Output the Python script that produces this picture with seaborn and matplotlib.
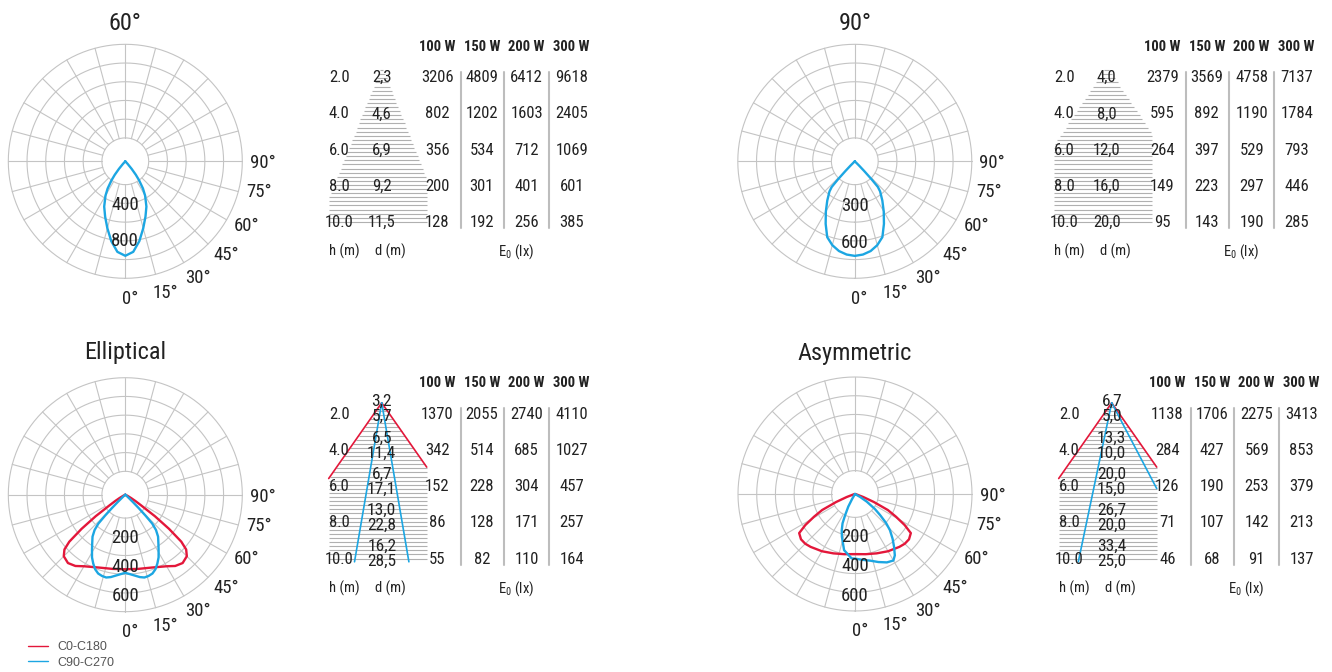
import numpy as np
import matplotlib
matplotlib.use("Agg")
import matplotlib.pyplot as plt
import seaborn as sns
from matplotlib import font_manager as fm

# ---------------- data ----------------
H_M = [2.0, 4.0, 6.0, 8.0, 10.0]
WATTS = ["100 W", "150 W", "200 W", "300 W"]

# 60° spot
ANG_60 = [0, 5, 10, 15, 20, 25, 30, 33, 36, 38, 40, 42, 44]
I_60 = [1050, 1010, 900, 770, 655, 555, 440, 360, 260, 190, 110, 40, 0]
D_60 = [2.3, 4.6, 6.9, 9.2, 11.5]
E_60 = [[3206, 802, 356, 200, 128], [4809, 1202, 534, 301, 192],
        [6412, 1603, 712, 401, 256], [9618, 2405, 1069, 601, 385]]

# 90° flood
ANG_90 = [0, 5, 10, 15, 20, 25, 30, 35, 40, 42, 43, 44, 45, 47]
I_90 = [768, 760, 740, 705, 655, 560, 470, 390, 320, 280, 200, 110, 50, 0]
D_90 = [4.0, 8.0, 12.0, 16.0, 20.0]
E_90 = [[2379, 595, 264, 149, 95], [3569, 892, 397, 223, 143],
        [4758, 1190, 529, 297, 190], [7137, 1784, 793, 446, 285]]

# Elliptical
ANG_EL_C0 = [0, 10, 20, 30, 35, 40, 45, 48, 50, 52, 54, 56, 58, 60, 63, 66]
I_EL_C0 = [510, 515, 530, 565, 595, 610, 595, 560, 500, 380, 250, 130, 80, 45, 15, 0]
ANG_EL_C90 = [0, 5, 10, 13, 16, 19, 22, 25, 28, 31, 34, 38, 41, 43, 44, 45, 46, 48, 50]
I_EL_C90 = [534, 550, 572, 581, 578, 570, 550, 519, 485, 442, 405, 364, 320, 270, 200, 130, 70, 20, 0]
D_EL_TOP = [3.2, 6.5, 6.7, 13.0, 16.2]
D_EL_BOT = [5.7, 11.4, 17.1, 22.8, 28.5]
E_EL = [[1370, 342, 152, 86, 55], [2055, 514, 228, 128, 82],
        [2740, 685, 304, 171, 110], [4110, 1027, 457, 257, 164]]

# Asymmetric
ANG_AS_C0 = [0, 10, 20, 30, 40, 45, 50, 55, 58, 61, 64, 67, 70, 75, 80]
I_AS_C0 = [411, 418, 432, 452, 472, 481, 482, 466, 400, 320, 250, 140, 60, 10, 0]
ANG_AS_C90 = [-35, -30, -28, -25, -23, -20, -17, -11, -3, 0, 6, 13, 19, 25, 30, 33,
              36.5, 40, 44, 47, 50, 53, 57, 60, 63]
I_AS_C90 = [0, 40, 98, 160, 218, 265, 306, 391, 441, 442, 452, 468, 492, 516, 525, 500,
            449, 400, 344, 290, 224, 170, 96, 40, 0]
D_AS_TOP = [6.7, 13.3, 20.0, 26.7, 33.4]
D_AS_BOT = [5.0, 10.0, 15.0, 20.0, 25.0]
E_AS = [[1138, 284, 126, 71, 46], [1706, 427, 190, 107, 68],
        [2275, 569, 253, 142, 91], [3413, 853, 379, 213, 137]]

ANGLE_TICKS = [0, 15, 30, 45, 60, 75, 90]

# ---------------- style ----------------
sns.set_theme(style="white")
names = {f.name for f in fm.fontManager.ttflist}
NARROW = None
for cand in ["Liberation Sans Narrow", "Roboto Condensed", "Arial Narrow"]:
    if cand in names:
        NARROW = cand
        break
if NARROW is None:
    NARROW = "Liberation Sans" if "Liberation Sans" in names else "DejaVu Sans"
REG = "Liberation Sans" if "Liberation Sans" in names else "DejaVu Sans"
plt.rcParams["font.family"] = [NARROW, "DejaVu Sans"]

RED = "#e3173a"
BLUE = "#1ca6e2"
GRID = "#c4c4c4"
HATCH = "#b0b0b0"
SEP = "#bdbdbd"
TXT = "#222222"

W, Hh = 1332, 672
fig = plt.figure(figsize=(W / 100, Hh / 100), dpi=100)
fig.patch.set_facecolor("white")

ov = fig.add_axes([0, 0, 1, 1])
ov.set_xlim(0, W)
ov.set_ylim(Hh, 0)
ov.axis("off")

RING_FRACS = np.linspace(0.2, 1.0, 6)
RPX = 117.0


def polar_panel(title, cx, cy, rmax, labels, label_off, title_r, curves):
    ax = fig.add_axes([(cx - RPX) / W, (Hh - cy - RPX) / Hh, 2 * RPX / W, 2 * RPX / Hh],
                      projection="polar")
    ax.set_facecolor("none")
    ax.set_theta_zero_location("S")
    ax.set_theta_direction(1)
    ax.set_ylim(0, rmax)
    ax.grid(False)
    ax.set_xticks([])
    ax.set_yticks([])
    ax.spines["polar"].set_visible(False)
    tt = np.linspace(0, 2 * np.pi, 361)
    for f in RING_FRACS:
        ax.plot(tt, np.full_like(tt, f * rmax), color=GRID, lw=0.8, zorder=1, clip_on=False)
    for a in range(0, 360, 15):
        t = np.deg2rad(a)
        ax.plot([t, t], [RING_FRACS[0] * rmax, rmax], color=GRID, lw=0.8, zorder=1, clip_on=False)
    for a in ANGLE_TICKS:
        ax.text(np.deg2rad(a + (-0.8 if a == 90 else 2.0)), rmax * 1.175, f"{a}°",
                ha="center", va="center", fontsize=13.5, color=TXT, clip_on=False)
    ax.text(np.pi, rmax * title_r, title, ha="center", va="center", fontsize=17.5,
            color=TXT, clip_on=False)
    for ang, inten, col, mirror, lab in curves:
        ang = np.asarray(ang, float)
        inten = np.asarray(inten, float)
        if mirror:
            th = np.concatenate([-ang[::-1], ang[1:]])
            rr = np.concatenate([inten[::-1], inten[1:]])
        else:
            th, rr = ang, inten
        sns.lineplot(x=np.deg2rad(th), y=rr, ax=ax, color=col, lw=1.7, sort=False,
                     estimator=None, label=lab, zorder=3)
    if ax.get_legend() is not None:
        ax.get_legend().remove()
    for v in labels:
        ax.annotate(str(v), xy=(0, v), xytext=(0, -label_off), textcoords="offset points",
                    ha="center", va="center", fontsize=13.5, color=TXT, zorder=4)
    ax.set_xlabel("")
    ax.set_ylabel("")
    return ax


def fmt_d(v):
    return f"{v:.1f}".replace(".", ",")


def table(bx, hy, d_top, d_bot, evals, slope, red_slope=None, blue_slopes=None):
    rows = [hy + 31.0 + 36.2 * i for i in range(5)]
    apex_x, apex_y = bx - 55.6, rows[0] - 11.5
    box_l, box_r = apex_x - 53.0, apex_x + 45.0
    bottom = rows[-1] + 1.0
    ys = np.arange(apex_y + 4.0, bottom + 0.1, 4.1)
    hw = slope * (ys - apex_y)
    ov.hlines(ys, np.maximum(apex_x - hw, box_l), np.minimum(apex_x + hw, box_r),
              color=HATCH, lw=0.8, zorder=1)
    if red_slope is not None:
        for side, lim in ((-1, box_l), (1, box_r)):
            dy = abs(lim - apex_x) / red_slope
            ov.plot([apex_x, lim], [apex_y, apex_y + dy], color=RED, lw=1.2, zorder=2)
    if blue_slopes is not None:
        for side, s in zip((-1, 1), blue_slopes):
            lim = box_l if side < 0 else box_r
            dy = rows[-1] + 2.7 - apex_y
            if s * dy > abs(lim - apex_x):
                dy = abs(lim - apex_x) / s
            ov.plot([apex_x, apex_x + side * s * dy], [apex_y, apex_y + dy],
                    color=BLUE, lw=1.2, zorder=2)
    cols = [bx, bx + 44.5, bx + 89.4, bx + 134.4]
    for x, wlab in zip(cols, WATTS):
        ov.text(x, hy, wlab, ha="center", va="center", fontsize=10.5, fontweight="bold",
                color=TXT, zorder=3)
    for sx in (bx + 23.5, bx + 67.0, bx + 112.0):
        ov.plot([sx, sx], [rows[0] - 6, rows[-1] + 5.5], color=SEP, lw=1.5, zorder=2)
    for i, y in enumerate(rows):
        ov.text(bx - 98, y, f"{H_M[i]:.1f}", ha="center", va="center", fontsize=12,
                color=TXT, zorder=3)
        if d_bot is None:
            ov.text(apex_x, y, fmt_d(d_top[i]), ha="center", va="center", fontsize=12,
                    color=TXT, zorder=3)
        else:
            ov.text(apex_x, y - 12.5, fmt_d(d_top[i]), ha="center", va="center", fontsize=12.5,
                    color=TXT, zorder=3)
            ov.text(apex_x, y + 2.5, fmt_d(d_bot[i]), ha="center", va="center", fontsize=12.5,
                    color=TXT, zorder=3)
        for x, col in zip(cols, evals):
            ov.text(x, y, str(col[i]), ha="center", va="center", fontsize=12,
                    color=TXT, zorder=3)
    fy = hy + 205
    ov.text(bx - 93, fy, "h (m)", ha="center", va="center", fontsize=10.5, color=TXT)
    ov.text(bx - 46.5, fy, "d (m)", ha="center", va="center", fontsize=10.5, color=TXT)
    ov.text(bx + 79, fy, r"E$_{\mathregular{0}}$ (lx)", ha="center", va="center",
            fontsize=10.5, color=TXT)


# ---------------- panels ----------------
polar_panel("60°", 125.3, 161.3, 1300, [400, 800], 5.8, 1.18,
            [(ANG_60, I_60, BLUE, True, None)])
table(437.3, 46.7, D_60, None, E_60, 0.40)

polar_panel("90°", 854.8, 161.3, 950, [300, 600], 5.8, 1.18,
            [(ANG_90, I_90, BLUE, True, None)])
table(1162.3, 46.7, D_90, None, E_90, 0.67)

ax_el = polar_panel("Elliptical", 125.3, 494.7, 800, [200, 400, 600], 10.0, 1.215,
                    [(ANG_EL_C0, I_EL_C0, RED, True, "C0-C180"),
                     (ANG_EL_C90, I_EL_C90, BLUE, True, "C90-C270")])
table(437.3, 383.3, D_EL_TOP, D_EL_BOT, E_EL, 0.70, red_slope=0.70,
      blue_slopes=(0.171, 0.171))

polar_panel("Asymmetric", 855.0, 494.0, 800, [200, 400, 600], 10.0, 1.205,
            [(ANG_AS_C0, I_AS_C0, RED, True, None),
             (ANG_AS_C90, I_AS_C90, BLUE, False, None)])
table(1167.3, 383.3, D_AS_TOP, D_AS_BOT, E_AS, 0.70, red_slope=0.70,
      blue_slopes=(0.21, 0.525))

# legend
handles, labs = ax_el.get_legend_handles_labels()
leg = ov.legend(handles, labs, loc="upper left", bbox_to_anchor=(28, 641),
                bbox_transform=ov.transData, frameon=False,
                handlelength=1.6, handletextpad=0.75, labelspacing=0.3, borderpad=0,
                borderaxespad=0, prop={"family": REG, "size": 9})
for t in leg.get_texts():
    t.set_color("#555555")
for l in leg.get_lines():
    l.set_linewidth(1.0)

fig.savefig("out.png", dpi=100, facecolor="white")
